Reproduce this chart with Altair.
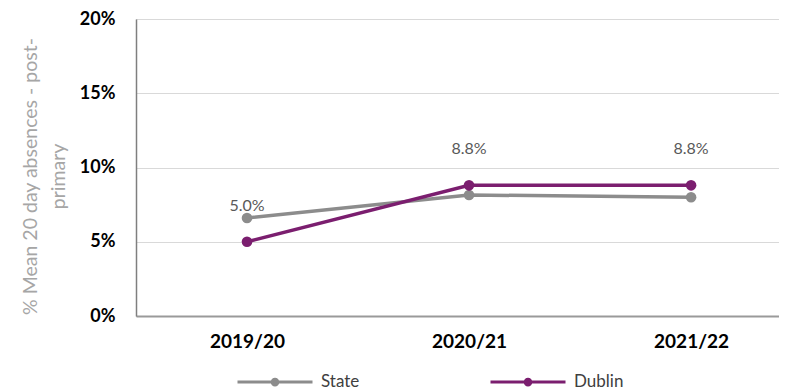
import altair as alt
import pandas as pd

years = ["2019/20", "2020/21", "2021/22"]
state = [6.6, 8.15, 8.0]
dublin = [5.0, 8.8, 8.8]
series = ["State", "Dublin"]
colors = ["#8C8C8C", "#7B1E6F"]
y_ticks = [0, 2.5, 5, 7.5, 10, 12.5, 15, 17.5, 20]

rows = []
for i, yr in enumerate(years):
    rows.append({"year": yr, "series": "State", "value": state[i]})
    rows.append({"year": yr, "series": "Dublin", "value": dublin[i]})
df = pd.DataFrame(rows)
lab = pd.DataFrame({"year": years, "value": dublin, "label": [f"{v:.1f}%" for v in dublin]})

FONT = "Lato"

x = alt.X("year:O", sort=years, title=None,
          scale=alt.Scale(type="point", padding=0.448, align=0.558),
          axis=alt.Axis(labelAngle=0, labelFontWeight="bold", labelFontSize=19,
                        labelColor="#000000", ticks=False, domain=True,
                        domainColor="#9A9A9A", domainWidth=2, labelPadding=16,
                        labelFont=FONT, grid=False))
y = alt.Y("value:Q", title=["% Mean 20 day absences - post-", "primary"],
          scale=alt.Scale(domain=[0, 20], nice=False),
          axis=alt.Axis(values=y_ticks,
                        labelExpr="datum.value % 5 == 0 ? datum.value + '%' : ''",
                        labelFontWeight="bold", labelFontSize=18, labelColor="#000000",
                        labelFont=FONT, ticks=False, domain=True, domainColor="#7F7F7F",
                        domainWidth=1.5, labelPadding=21,
                        gridColor=alt.condition("datum.value % 5 == 0",
                                                alt.value("#D9D9D9"), alt.value("#F0F0F0")),
                        titleFont=FONT, titleFontSize=19.5, titleFontWeight="normal",
                        titleColor="#A6A6A6", titleLineHeight=28,
                        titleX=-106, titleY=157, titleAngle=270, titleAlign="center",
                        titleBaseline="middle"))
color = alt.Color("series:N", sort=series, title=None,
                  scale=alt.Scale(domain=series, range=colors),
                  legend=alt.Legend(orient="none", direction="horizontal", legendX=100, legendY=324,
                                    symbolType="M-1,0L-0.075,0M0.075,0L1,0M-0.075,0A0.075,0.075 0 1,1 0.075,0A0.075,0.075 0 1,1 -0.075,0Z",
                                    symbolSize=5625, symbolStrokeWidth=3,
                                    labelFont=FONT, labelFontSize=17, labelColor="#404040",
                                    columnPadding=124, labelOffset=7))

lines = alt.Chart(df).mark_line(strokeWidth=3.5).encode(x=x, y=y, color=color)
points = alt.Chart(df).mark_circle(size=113, opacity=1).encode(x=x, y=y, color=color)
text = alt.Chart(lab).mark_text(dy=-36, fontSize=16, font=FONT, color="#595959").encode(
    x=alt.X("year:O", sort=years), y="value:Q", text="label:N")

chart = alt.layer(lines, points, text).properties(
    width=643, height=297,
    autosize=alt.AutoSizeParams(type="none"),
    padding={"left": 128, "top": 11, "right": 0, "bottom": 74},
).configure_view(stroke=None).configure(background="white")

chart.save("out.html", embed_options={"renderer": "svg", "actions": False})
